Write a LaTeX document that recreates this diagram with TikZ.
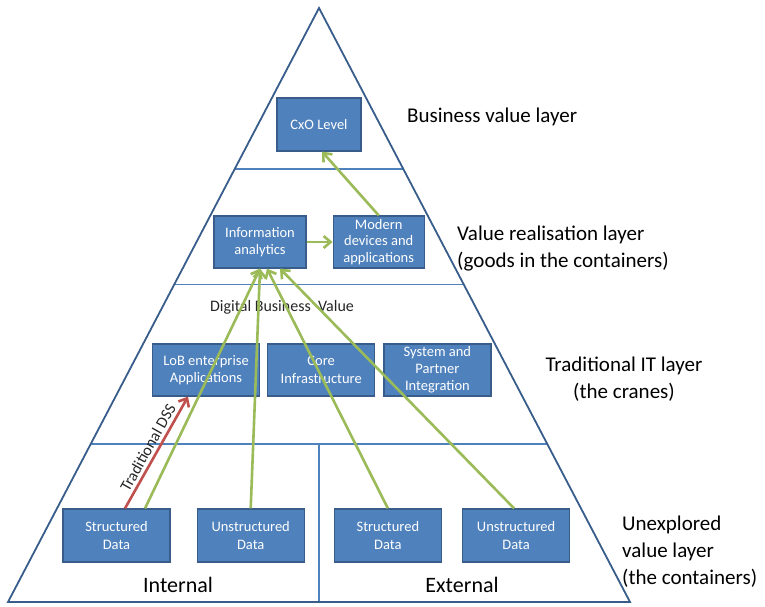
\documentclass[tikz,border=0pt]{standalone}
\usepackage{fontspec}
\setmainfont{Carlito}
\usetikzlibrary{arrows.meta,positioning,calc}
\definecolor{layerblue}{RGB}{79,129,189}
\definecolor{edgeblue}{RGB}{56,93,138}
\definecolor{flowgreen}{RGB}{155,187,89}
\definecolor{dssred}{RGB}{192,80,77}

\begin{document}
\begin{tikzpicture}[x=1pt, y=-1pt,
  box/.style={draw=edgeblue, line width=1.2pt, fill=layerblue, text=white, align=center, minimum width=107pt, minimum height=53pt, inner sep=1pt, font=\fontsize{14.5}{17.5}\selectfont},
  sep/.style={draw=layerblue, line width=1.1pt},
  arr/.style={-{Straight Barb[length=7pt,width=12pt]}, line width=2.6pt, draw=flowgreen},
  layer/.style={inner sep=0pt, font=\fontsize{21}{27}\selectfont},
  side/.style={inner sep=0pt, font=\fontsize{22}{26}\selectfont}]
\useasboundingbox (0,0) rectangle (765,606);

% pyramid and layer dividers
\coordinate (top) at (319,8);
\coordinate (bl) at (8,602);
\coordinate (br) at (630,602);
\foreach \t in {0.271,0.466,0.734}
  \draw[sep] ($(top)!\t!(bl)$) coordinate (lw) -- ($(top)!\t!(br)$);
\draw[sep] (top |- lw) -- (top |- bl);
\draw[edgeblue, line width=1.8pt] (top) -- (br) -- (bl) -- cycle;

\node[box, minimum width=84pt] (cxo) at (319,124.5) {CxO Level};
\node[box, minimum width=92pt, minimum height=52pt] (ia) at (260,242) {Information\\analytics};
\node[box, minimum width=91pt, minimum height=52pt, right=26pt of ia, font=\fontsize{14.5}{16.5}\selectfont] (mda) {Modern\\devices and\\applications};
\node[box, minimum height=52pt] (lob) at (206,370) {LoB enterprise\\Applications};
\node[box, minimum height=52pt, right=7pt of lob] (core) {Core\\Infrastructure};
\node[box, minimum height=52pt, right=8pt of core, font=\fontsize{14.5}{17}\selectfont] (spi) {System and\\Partner\\Integration};
\node[box] (sdi) at (116.5,535.5) {Structured\\Data};
\node[box, right=26pt of sdi] (udi) {Unstructured\\Data};
\node[box, right=29pt of udi] (sde) {Structured\\Data};
\node[box, right=20pt of sde] (ude) {Unstructured\\Data};

\node[inner sep=0pt, text=black!85, font=\fontsize{16}{18}\selectfont] (dbv) at (282,307) {Digital Business\ \ Value};
\node[side] (int) at (178,585) {Internal};
\node[side] (ext) at (462,585) {External};

% layer names on the right
\node[layer, anchor=west] (bvl) at (407,117) {Business value layer};
\node[layer, anchor=west, align=left] (vrl) at (457,249) {Value realisation layer\\(goods in the containers)};
\node[layer, align=center] (til) at (624,379) {Traditional IT layer\\(the cranes)};
\node[layer, anchor=west, align=left] (uvl) at (622,551.5) {Unexplored\\value layer\\(the containers)};

\draw[arr] (mda.north) -- ([xshift=3pt]cxo.south);
\draw[arr] (ia) -- (mda);
\draw[arr] ([xshift=28.5pt]sdi.north) -- (ia.south);
\draw[arr] (udi.north) -- (ia.south);
\draw[arr] (sde.north) -- ([xshift=7pt]ia.south);
\draw[arr] ([xshift=-2pt]ude.north) -- ([xshift=20pt]ia.south);
\draw[arr, draw=dssred] ([xshift=8.5pt]sdi.north) -- node[midway, sloped, above, inner sep=3pt, text=black!85, font=\fontsize{16}{18}\selectfont] {Traditional DSS} ([xshift=-18pt]lob.south);
\end{tikzpicture}
\end{document}
